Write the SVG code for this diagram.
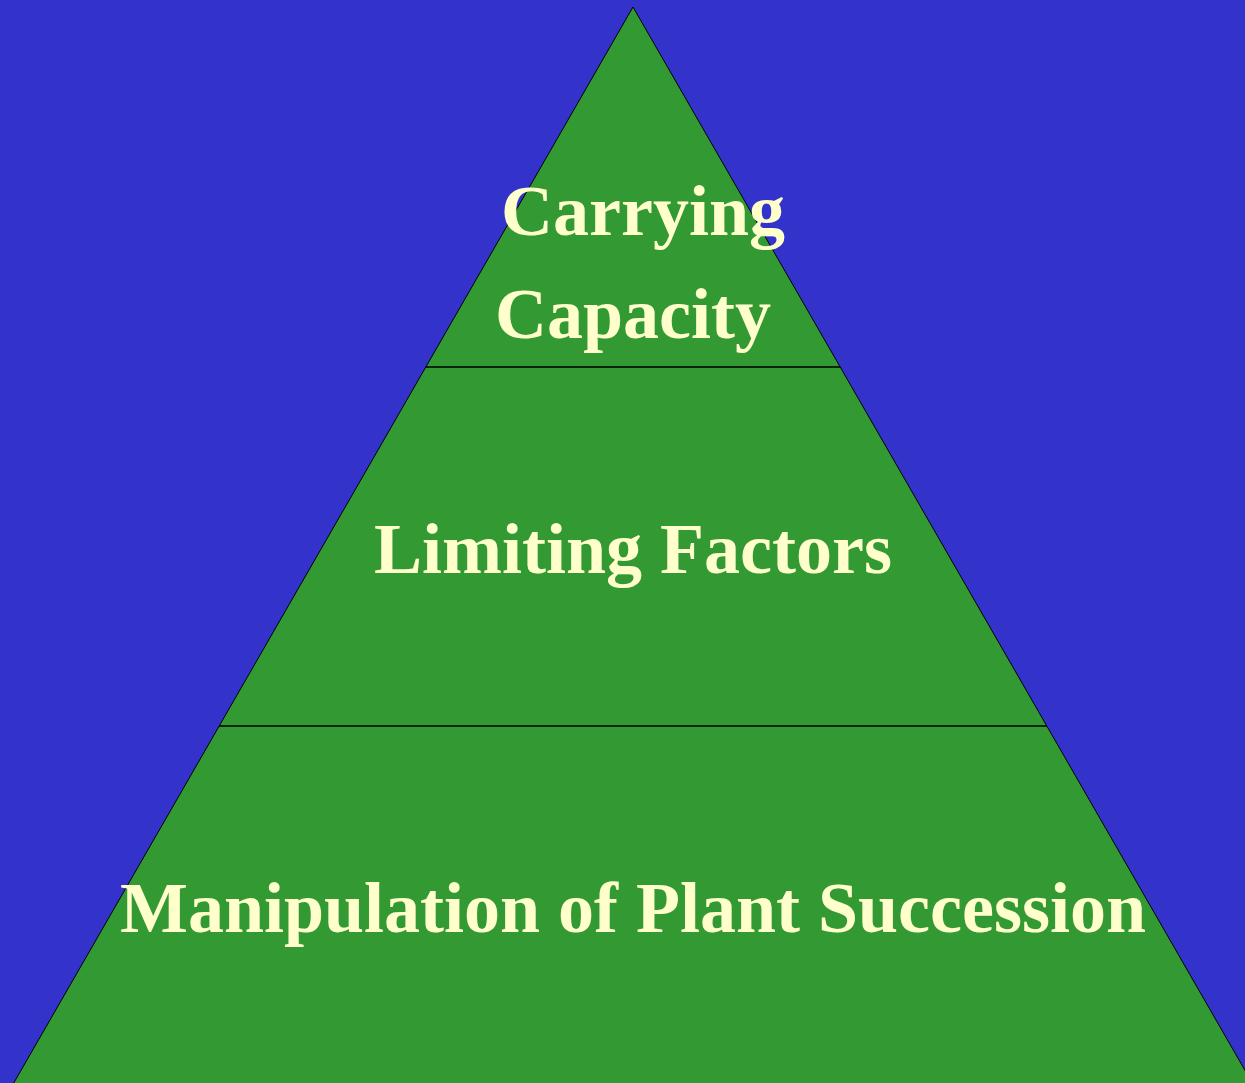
<svg xmlns="http://www.w3.org/2000/svg" width="1245" height="1083" viewBox="0 0 1245 1083">
  <style>
    .tier { fill: #339933; stroke: #000; stroke-width: 1; }
    .sep { stroke: #000; stroke-width: 1.3; }
    .label { font-family: "Liberation Serif", "Times New Roman", serif; font-weight: bold; font-size: 72px; fill: #FFFFCC; text-anchor: middle; }
  </style>
  <rect x="0" y="0" width="1245" height="1083" fill="#3333CC"/>
  <g id="pyramid">
    <polygon class="tier" points="633,7 12,1086 1254,1086"/>
  </g>
  <g id="connectors">
    <line class="sep" x1="426" y1="367" x2="840" y2="367"/>
    <line class="sep" x1="219" y1="726" x2="1047" y2="726"/>
  </g>
  <g id="top-tier">
    <text class="label" x="643" y="235">Carrying</text>
    <text class="label" x="633" y="338">Capacity</text>
  </g>
  <g id="middle-tier">
    <text class="label" x="633" y="573">Limiting Factors</text>
  </g>
  <g id="bottom-tier">
    <text class="label" x="633" y="932">Manipulation of Plant Succession</text>
  </g>
</svg>
